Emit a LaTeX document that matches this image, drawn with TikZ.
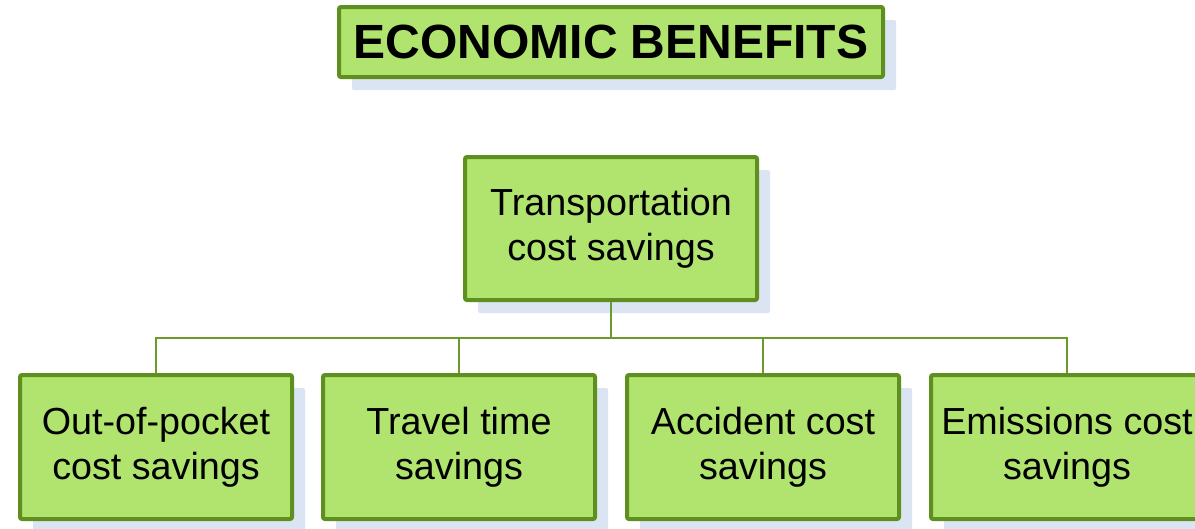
\documentclass[tikz,border=0pt]{standalone}
\usepackage{fontspec}
\setmainfont{Liberation Sans}
\usetikzlibrary{shadows}
\definecolor{boxfill}{HTML}{B0E46E}
\definecolor{boxline}{HTML}{5F8F1F}
\definecolor{linkc}{HTML}{6B9B2B}
\definecolor{shadowc}{HTML}{DBE4F2}
\tikzset{
  benefit/.style={draw=boxline,line width=4pt,fill=boxfill,rounded corners=2pt,
    inner sep=0pt,align=center,font=\fontsize{37.7}{45}\selectfont,
    drop shadow={shadow xshift=13pt,shadow yshift=-13pt,fill=shadowc,opacity=1}},
  link/.style={draw=linkc,line width=2pt}
}
\begin{document}
\begin{tikzpicture}[x=1pt,y=-1pt]
  \clip (0,0) rectangle (1195,528);
  \fill[white] (0,0) rectangle (1195,528);
  % title
  \node[benefit,minimum width=544pt,minimum height=70pt,font=\fontsize{48}{56}\selectfont\bfseries] (title) at (611,42) {ECONOMIC BENEFITS};
  % main box
  \node[benefit,minimum width=292pt,minimum height=143pt] (trans) at (611,228.5) {Transportation\\cost savings};
  % sub boxes
  \node[benefit,minimum width=272pt,minimum height=144pt] (pocket) at (156,447) {Out-of-pocket\\cost savings};
  \node[benefit,minimum width=272pt,minimum height=144pt] (travel) at (459,447) {Travel time\\savings};
  \node[benefit,minimum width=272pt,minimum height=144pt] (accident) at (763,447) {Accident cost\\savings};
  \node[benefit,minimum width=272pt,minimum height=144pt] (emission) at (1067,447) {Emissions cost\\savings};
  % connectors
  \coordinate (bus) at (611,338);
  \draw[link] (trans.south) -- (bus);
  \draw[link] (pocket.north) |- (bus) -| (emission.north);
  \draw[link] (travel.north) -- (travel.north |- bus);
  \draw[link] (accident.north) -- (accident.north |- bus);
\end{tikzpicture}
\end{document}
